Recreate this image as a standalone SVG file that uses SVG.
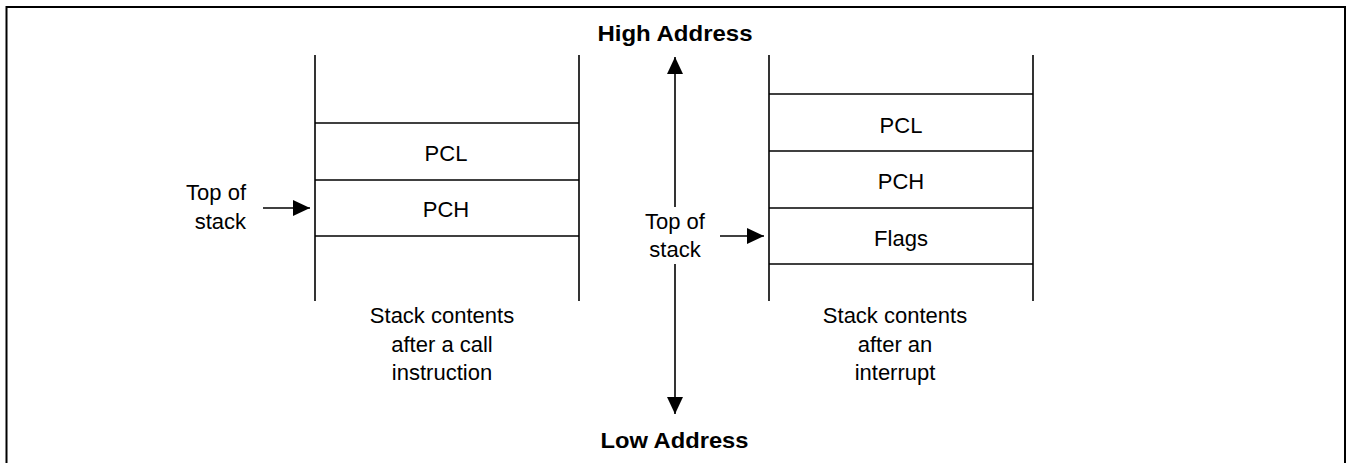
<svg xmlns="http://www.w3.org/2000/svg" width="1346" height="463" viewBox="0 0 1346 463">
  <style>
    .ln { stroke: #000; stroke-width: 1.6; fill: none; }
    .t { font-family: "Liberation Sans", Arial, sans-serif; font-size: 22px; fill: #000; text-anchor: middle; }
    .b { font-family: "Liberation Sans", Arial, sans-serif; font-size: 22px; font-weight: bold; fill: #000; text-anchor: middle; }
    .arr { stroke: #000; stroke-width: 1.6; fill: none; marker-end: url(#ah); }
  </style>
  <defs>
    <marker id="ah" markerUnits="userSpaceOnUse" markerWidth="17" markerHeight="16" refX="17" refY="8" orient="auto">
      <path d="M0,0 L17,8 L0,16 Z" fill="#000"/>
    </marker>
  </defs>
  <rect x="0" y="0" width="1346" height="463" fill="#fff"/>
  <rect id="frame" x="6.5" y="7" width="1338.5" height="520" fill="none" stroke="#000" stroke-width="2"/>

  <g id="stack-call">
    <line class="ln" x1="315" y1="55" x2="315" y2="301"/>
    <line class="ln" x1="579" y1="55" x2="579" y2="301"/>
    <line class="ln" x1="315" y1="123" x2="579" y2="123"/>
    <line class="ln" x1="315" y1="180" x2="579" y2="180"/>
    <line class="ln" x1="315" y1="236" x2="579" y2="236"/>
    <text class="t" x="446" y="161">PCL</text>
    <text class="t" x="446" y="217">PCH</text>
  </g>

  <g id="stack-interrupt">
    <line class="ln" x1="769" y1="55" x2="769" y2="301"/>
    <line class="ln" x1="1033" y1="55" x2="1033" y2="301"/>
    <line class="ln" x1="769" y1="94" x2="1033" y2="94"/>
    <line class="ln" x1="769" y1="151" x2="1033" y2="151"/>
    <line class="ln" x1="769" y1="208" x2="1033" y2="208"/>
    <line class="ln" x1="769" y1="264" x2="1033" y2="264"/>
    <text class="t" x="901" y="133">PCL</text>
    <text class="t" x="901" y="189">PCH</text>
    <text class="t" x="901" y="246">Flags</text>
  </g>

  <g id="label-top-left">
    <text class="t" x="246" y="200" text-anchor="end" style="text-anchor:end">Top of</text>
    <text class="t" x="246" y="229" style="text-anchor:end">stack</text>
  </g>

  <g id="label-top-right">
    <text class="t" x="675" y="229">Top of</text>
    <text class="t" x="675" y="257">stack</text>
  </g>

  <g id="caption-call">
    <text class="t" x="442" y="323">Stack contents</text>
    <text class="t" x="442" y="352">after a call</text>
    <text class="t" x="442" y="380">instruction</text>
  </g>

  <g id="caption-interrupt">
    <text class="t" x="895" y="323">Stack contents</text>
    <text class="t" x="895" y="352">after an</text>
    <text class="t" x="895" y="380">interrupt</text>
  </g>

  <g id="high-address">
    <text class="b" x="675" y="41" textLength="155" lengthAdjust="spacingAndGlyphs">High Address</text>
  </g>
  <g id="low-address">
    <text class="b" x="674.5" y="448" textLength="148" lengthAdjust="spacingAndGlyphs">Low Address</text>
  </g>

  <g id="connectors">
    <line class="arr" x1="263" y1="208" x2="310" y2="208"/>
    <line class="arr" x1="720" y1="236" x2="764" y2="236"/>
    <line class="arr" x1="675" y1="207" x2="675" y2="57"/>
    <line class="arr" x1="675" y1="264" x2="675" y2="414"/>
  </g>
</svg>
